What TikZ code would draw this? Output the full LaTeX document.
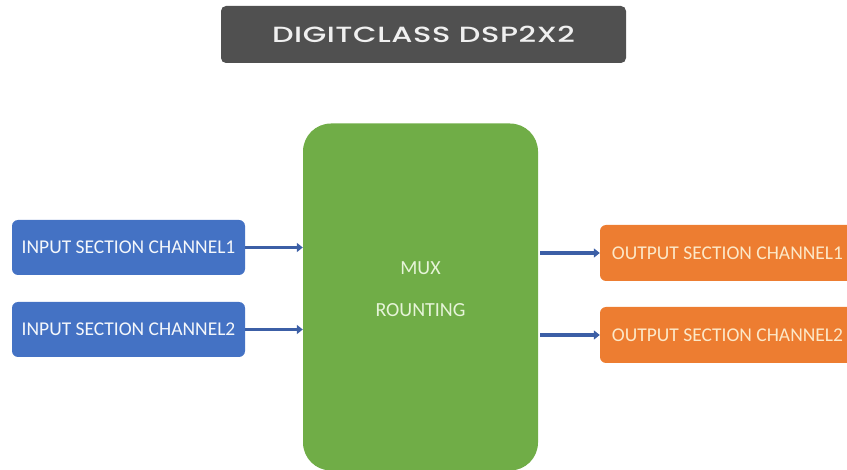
\documentclass[tikz,border=0pt]{standalone}
\usepackage{fontspec}
\setmainfont{Carlito}
\newfontfamily\titlefont[LetterSpace=2]{Poppins Medium}
\usetikzlibrary{arrows.meta}
\definecolor{inblue}{HTML}{4472C4}
\definecolor{arrblue}{HTML}{3C5FA6}
\definecolor{muxgreen}{HTML}{70AD47}
\definecolor{outorange}{HTML}{ED7D31}
\definecolor{titlegray}{HTML}{505050}
\definecolor{outtext}{HTML}{FCE8C8}
\definecolor{muxtext}{HTML}{E6F4D8}
\tikzset{
  inbox/.style={rectangle, rounded corners=6pt, fill=inblue, text=white!94!inblue, minimum width=233pt, minimum height=55pt, font=\fontsize{19.5}{22}\selectfont, inner sep=0pt},
  outbox/.style={rectangle, rounded corners=6pt, fill=outorange, text=outtext, minimum width=255pt, minimum height=56pt, font=\fontsize{19.5}{22}\selectfont, inner sep=0pt},
  muxbox/.style={rectangle, rounded corners=28pt, fill=muxgreen, minimum width=235pt, minimum height=347pt, inner sep=0pt},
  titlebox/.style={rectangle, rounded corners=5pt, fill=titlegray, text=white!94!black, minimum width=405pt, minimum height=57pt, inner sep=0pt, font=\titlefont\fontsize{22}{24}\selectfont},
  muxlabel/.style={text=muxtext, font=\fontsize{20}{22}\selectfont, inner sep=0pt},
  arr/.style={draw=arrblue, line width=3.5pt, -{Triangle[length=6pt,width=9pt]}}
}
\begin{document}
\begin{tikzpicture}[x=1pt,y=-1pt]
\useasboundingbox (0,0) rectangle (847,470);
\clip (0,0) rectangle (847,470);
\node[titlebox] (title) at (423.5,34.5) {\scalebox{1.38}[1]{DIGITCLASS DSP2X2}};
\node[muxbox] (mux) at (420.5,297) {};
\node[muxlabel] (muxl) at (420.5,268) {MUX};
\node[muxlabel] (rout) at (420.5,310) {ROUNTING};
\node[inbox] (in1) at (128.5,247.5) {INPUT SECTION CHANNEL1};
\node[inbox] (in2) at (128.5,329.5) {INPUT SECTION CHANNEL2};
\node[outbox] (out1) at (727.5,253) {OUTPUT SECTION CHANNEL1};
\node[outbox] (out2) at (727.5,335) {OUTPUT SECTION CHANNEL2};
\draw[arr] (in1.east) -- (in1.east -| mux.west);
\draw[arr] (in2.east) -- (in2.east -| mux.west);
\draw[arr] ([xshift=2pt]mux.east |- out1.west) -- (out1.west);
\draw[arr] ([xshift=2pt]mux.east |- out2.west) -- (out2.west);
\end{tikzpicture}
\end{document}
